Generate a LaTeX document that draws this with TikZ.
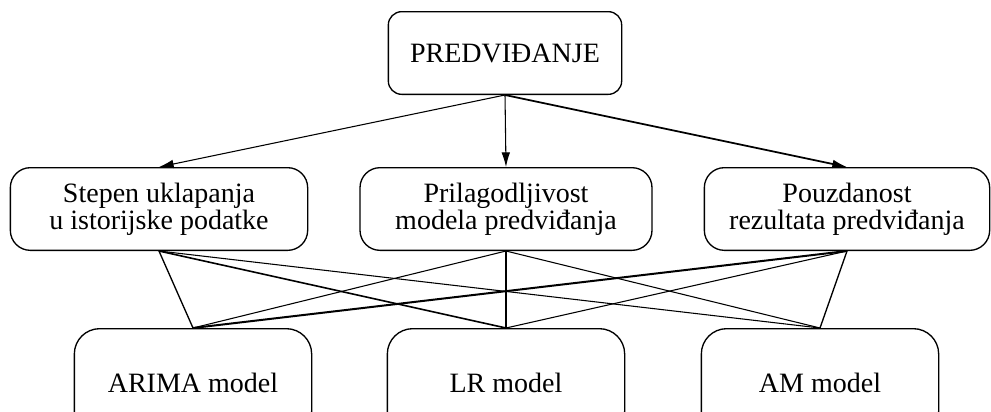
\documentclass[tikz,border=0pt]{standalone}
\usepackage{fontspec}
\setmainfont{Liberation Serif}
\usetikzlibrary{arrows.meta}

\begin{document}
\begin{tikzpicture}[x=0.75pt, y=-0.75pt,
        box/.style={draw, line width=1pt, align=center, inner sep=0pt,
            font=\fontsize{21}{20.5}\selectfont},
        topbox/.style={box, rounded corners=10pt, minimum width=175pt, minimum height=62pt},
        midbox/.style={box, rounded corners=15pt, minimum height=62pt},
        modelbox/.style={box, rounded corners=19pt, minimum width=178pt, minimum height=81pt, anchor=north},
        arr/.style={-{Latex[length=11pt, width=6.5pt]}, line width=0.8pt},
        link/.style={line width=0.8pt},
        boldlink/.style={line width=1.5pt}]
        \useasboundingbox (0,0) rectangle (991,411);

        % Goal
        \node[topbox] (predvidjanje) at (505,53) {PREDVIĐANJE};

        % Criteria
        \node[midbox, minimum width=223pt] (stepen) at (159,209) {Stepen uklapanja\\u istorijske podatke};
        \node[midbox, minimum width=219pt] (prilagodljivost) at (506,209) {Prilagodljivost\\modela predviđanja};
        \node[midbox, minimum width=214pt] (pouzdanost) at (847,209) {Pouzdanost\\rezultata predviđanja};

        % Models
        \node[modelbox] (arima) at (193,328) {ARIMA model};
        \node[modelbox] (lr) at (506,328) {LR model};
        \node[modelbox] (am) at (820,328) {AM model};

        % Arrows from the goal
        \draw[arr] (predvidjanje.south) -- (stepen.north);
        \draw[arr] (predvidjanje.south) -- (prilagodljivost.north);
        \draw[arr, line width=1.3pt] (predvidjanje.south) -- (pouzdanost.north);

        % Links between criteria and models
        \draw[link, line width=1pt] (stepen.south) -- (arima.north);
        \draw[link, line width=1.2pt] (stepen.south) -- (lr.north);
        \draw[link] (stepen.south) -- (am.north);
        \draw[link] (prilagodljivost.south) -- (arima.north);
        \draw[boldlink, line width=1.3pt] (prilagodljivost.south) -- (lr.north);
        \draw[link] (prilagodljivost.south) -- (am.north);
        \draw[boldlink] (pouzdanost.south) -- (arima.north);
        \draw[link] (pouzdanost.south) -- (lr.north);
        \draw[link, line width=1pt] (pouzdanost.south) -- (am.north);
\end{tikzpicture}
\end{document}
